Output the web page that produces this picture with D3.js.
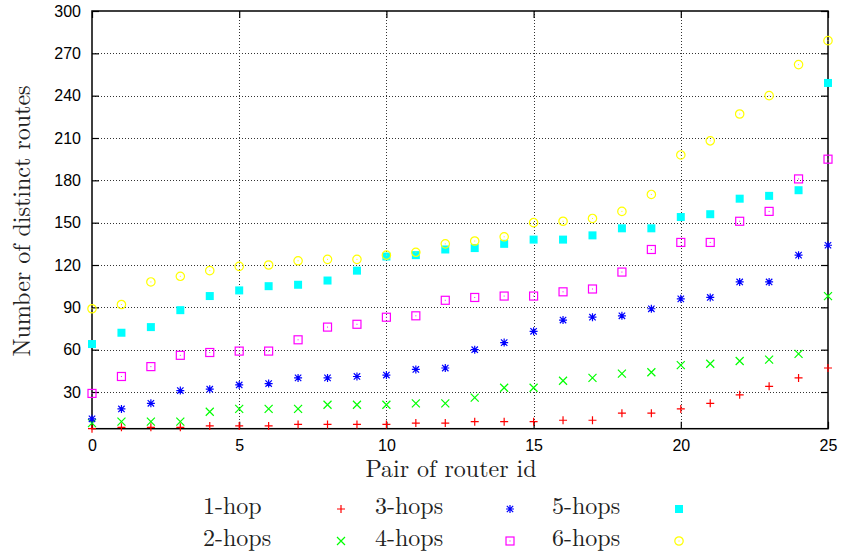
<!DOCTYPE html>
<html><head><meta charset="utf-8">
<script src="https://cdn.jsdelivr.net/npm/d3@7"></script>
<style>body{margin:0;background:#fff}</style>
</head><body>
<svg id="c" width="841" height="559"></svg>
<script>
// ---- data ----
const pairIds = [0,1,2,3,4,5,6,7,8,9,10,11,12,13,14,15,16,17,18,19,20,21,22,23,24,25];
const hop1 = [4,5,5,5,6,6,6,7,7,7,7,8,8,9,9,9,10,10,15,15,18,22,28,34,40,47];
const hop2 = [8,9,9,9,16,18,18,18,21,21,21,22,22,26,33,33,38,40,43,44,49,50,52,53,57,98];
const hop3 = [11,18,22,31,32,35,36,40,40,41,42,46,47,60,65,73,81,83,84,89,96,97,108,108,127,134];
const hop4 = [29,41,48,56,58,59,59,67,76,78,83,84,95,97,98,98,101,103,115,131,136,136,151,158,181,195];
const hop5 = [64,72,76,88,98,102,105,106,109,116,126,127,131,132,135,138,138,141,146,146,154,156,167,169,173,249];
const hop6 = [89,92,108,112,116,119,120,123,124,124,127,129,135,137,140,150,151,153,158,170,198,208,227,240,262,279];
const seriesNames = ["1-hop","2-hops","3-hops","4-hops","5-hops","6-hops"];
const seriesValues = [hop1, hop2, hop3, hop4, hop5, hop6];
const seriesColors = ["#ff0000","#00ff00","#0000ff","#ff00ff","#00ffff","#ffff00"];
const seriesMarkers = ["plus","cross","star","boxdot","box","circledot"];
const xTicks = [0,5,10,15,20,25];
const yTicks = [30,60,90,120,150,180,210,240,270,300];
const xTitle = "Pair of router id";
const yTitle = "Number of distinct routes";

// ---- layout ----
const L = 92, R = 828, T = 11, B = 428.7;
const svg = d3.select("#c");
const x = d3.scaleLinear().domain([0,25]).range([L,R]);
const y = d3.scaleLinear().domain([4,300]).range([B,T]);
const serif = '"Latin Modern Roman", "Liberation Serif", serif';
const sans = '"Liberation Sans", Arial, sans-serif';

// grid
const gGrid = svg.append("g");
gGrid.append("g").attr("transform",`translate(${L},0)`)
  .call(d3.axisLeft(y).tickValues(yTicks.filter(v=>v<300)).tickSize(-(R-L)).tickFormat(""))
  .call(g=>g.select(".domain").remove())
  .call(g=>g.selectAll("line").attr("stroke","#333").attr("stroke-dasharray","1,2").attr("shape-rendering","crispEdges"));
gGrid.append("g").attr("transform",`translate(0,${B})`)
  .call(d3.axisBottom(x).tickValues(xTicks.filter(v=>v>0&&v<25)).tickSize(-(B-T)).tickFormat(""))
  .call(g=>g.select(".domain").remove())
  .call(g=>g.selectAll("line").attr("stroke","#333").attr("stroke-dasharray","1,2").attr("shape-rendering","crispEdges"));

// axes
function styleAxis(g){
  g.select(".domain").remove();
  g.selectAll("line").attr("stroke","#000").attr("stroke-width",1.2);
  g.selectAll("text").style("font-family",sans).style("font-size","16px").attr("fill","#000");
}
svg.append("g").attr("transform",`translate(${L},0)`)
  .call(d3.axisLeft(y).tickValues(yTicks).tickSizeInner(-7).tickSizeOuter(0).tickPadding(11))
  .call(styleAxis);
svg.append("g").attr("transform",`translate(${R},0)`)
  .call(d3.axisRight(y).tickValues(yTicks).tickSizeInner(-7).tickSizeOuter(0).tickFormat(""))
  .call(styleAxis);
svg.append("g").attr("transform",`translate(0,${B})`)
  .call(d3.axisBottom(x).tickValues(xTicks).tickSizeInner(-7).tickSizeOuter(0).tickPadding(11))
  .call(styleAxis);
svg.append("g").attr("transform",`translate(0,${T})`)
  .call(d3.axisTop(x).tickValues(xTicks).tickSizeInner(-7).tickSizeOuter(0).tickFormat(""))
  .call(styleAxis);

// border
svg.append("rect").attr("x",L).attr("y",T).attr("width",R-L).attr("height",B-T)
  .attr("fill","none").attr("stroke","#000").attr("stroke-width",1.5);

// markers
function drawMarker(g, type, color){
  const s = 4;
  const sw = 1.2;
  if(type==="plus"){
    g.append("path").attr("d",`M${-s},0H${s}M0,${-s}V${s}`).attr("stroke",color).attr("stroke-width",sw).attr("fill","none");
  } else if(type==="cross"){
    g.append("path").attr("d",`M${-s},${-s}L${s},${s}M${-s},${s}L${s},${-s}`).attr("stroke",color).attr("stroke-width",sw).attr("fill","none");
  } else if(type==="star"){
    g.append("path").attr("d",`M${-s},0H${s}M0,${-s}V${s}M${-s+0.8},${-s+0.8}L${s-0.8},${s-0.8}M${-s+0.8},${s-0.8}L${s-0.8},${-s+0.8}`).attr("stroke",color).attr("stroke-width",sw).attr("fill","none");
  } else if(type==="boxdot"){
    g.append("rect").attr("x",-s).attr("y",-s).attr("width",2*s).attr("height",2*s).attr("stroke",color).attr("stroke-width",sw).attr("fill","none");
    g.append("rect").attr("x",-0.5).attr("y",-0.5).attr("width",1).attr("height",1).attr("fill",color);
  } else if(type==="box"){
    g.append("rect").attr("x",-s).attr("y",-s).attr("width",2*s).attr("height",2*s).attr("fill",color);
  } else if(type==="circledot"){
    g.append("circle").attr("r",s+0.2).attr("stroke",color).attr("stroke-width",sw).attr("fill","none");
    g.append("rect").attr("x",-0.5).attr("y",-0.5).attr("width",1).attr("height",1).attr("fill",color);
  }
}

seriesValues.forEach((vals,k)=>{
  const g = svg.append("g");
  vals.forEach((v,i)=>{
    const m = g.append("g").attr("transform",`translate(${x(pairIds[i])},${y(v)})`);
    drawMarker(m, seriesMarkers[k], seriesColors[k]);
  });
});

// axis titles
svg.append("text").attr("x",451).attr("y",477.3).attr("text-anchor","middle")
  .style("font-family",serif).style("font-size","24px").attr("fill","#222")
  .text(xTitle);
svg.append("text").attr("transform","translate(30,221) rotate(-90)").attr("text-anchor","middle")
  .style("font-family",serif).style("font-size","24px").attr("fill","#222")
  .text(yTitle);

// legend
const legTextX = [203, 375, 552];
const legSymX = [341, 510, 679];
const legBase = [514.3, 546];
const legSymY = [509, 541];
seriesNames.forEach((name,k)=>{
  const col = Math.floor(k/2), row = k%2;
  svg.append("text").attr("x",legTextX[col]).attr("y",legBase[row])
    .style("font-family",serif).style("font-size","24px").attr("fill","#222")
    .text(name);
  const m = svg.append("g").attr("transform",`translate(${legSymX[col]},${legSymY[row]})`);
  drawMarker(m, seriesMarkers[k], seriesColors[k]);
});
</script>
</body></html>
